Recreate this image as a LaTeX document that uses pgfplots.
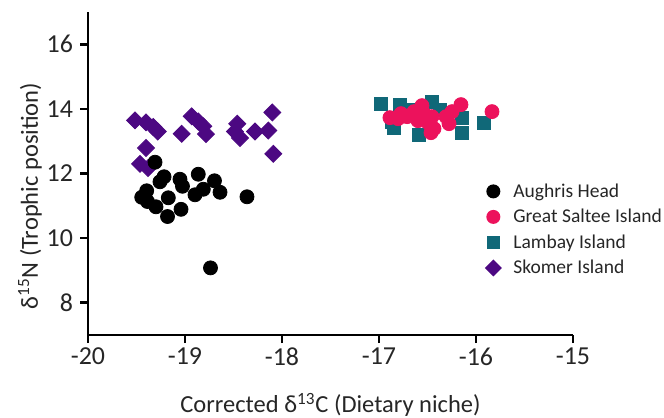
\documentclass[border=0pt]{standalone}
\usepackage{fontspec}
\setmainfont{Carlito}
\usepackage{pgfplots}
\pgfplotsset{compat=1.18}
\definecolor{cAug}{RGB}{0,0,0}
\definecolor{cSal}{RGB}{236,18,92}
\definecolor{cLam}{RGB}{16,104,120}
\definecolor{cSko}{RGB}{76,8,130}
\begin{document}
\begin{tikzpicture}
\useasboundingbox (-44bp,-41.5bp) rectangle (288bp,167.5bp);
\begin{axis}[
 scale only axis, width=242.5bp, height=161.5bp,
 xmin=-20,xmax=-15,ymin=7,ymax=17,
 axis x line=bottom, axis y line=left,
 axis line style={line width=1.3pt,-},
 xtick={-20,-19,-18,-17,-16,-15}, ytick={8,10,12,14,16},
 tick align=outside, major tick length=4bp,
 tick style={line width=1.3pt,black},
 /pgf/number format/assume math mode=true,
 ticklabel style={font=\fontsize{13}{15}\selectfont, text=black!85},
 xticklabel style={yshift=1bp},
 xlabel={Corrected δ\textsuperscript{13}C (Dietary niche)},
 ylabel={δ\textsuperscript{15}N (Trophic position)},
 label style={font=\fontsize{12.3}{14}\selectfont, text=black!85},
 xlabel style={at={(axis description cs:0.5,-0.2167)}, anchor=center},
 ylabel style={at={(axis description cs:-0.1196,0.43)}, anchor=center},
 legend cell align=left,
 legend image code/.code={\path[draw=none,fill=none] (0bp,0bp) -- (19.7bp,0bp);
   \path[#1,draw opacity=0] plot[only marks] coordinates {(10bp,0bp)};},
 legend style={draw=none, fill=none, at={(axis description cs:0.7814,0.497)}, anchor=north west,
   font=\fontsize{9.8}{12}\selectfont, row sep=0.2pt,
   nodes={inner sep=0.3pt, text height=9pt, text depth=3pt, text=black!85}},
]
\addlegendimage{only marks, mark=*, color=cAug, mark size=3.5bp}
\addlegendentry{Aughris Head}
\addlegendimage{only marks, mark=*, color=cSal, mark size=3.5bp}
\addlegendentry{Great Saltee Island}
\addlegendimage{only marks, mark=square*, color=cLam, mark size=3.2bp}
\addlegendentry{Lambay Island}
\addlegendimage{only marks, mark=square*, color=cSko, mark size=3bp, mark options={rotate=45}}
\addlegendentry{Skomer Island}
% Skomer
\addplot[forget plot, only marks, mark=square*, color=cSko, mark size=3bp, mark options={rotate=45}] coordinates {
(-19.515,13.645) (-19.402,13.583) (-19.327,13.44) (-19.281,13.30) (-19.034,13.23)
(-18.931,13.77) (-18.863,13.61) (-18.811,13.46) (-18.784,13.22) (-18.461,13.54)
(-18.485,13.30) (-18.433,13.10) (-18.278,13.30) (-18.141,13.33) (-18.100,13.89)
(-18.090,12.61) (-19.402,12.79) (-19.464,12.30) (-19.381,12.17)
};
% Aughris
\addplot[forget plot, only marks, mark=*, color=cAug, mark size=3.5bp] coordinates {
(-19.309,12.349) (-19.216,11.899) (-19.258,11.744) (-19.052,11.822) (-19.026,11.605)
(-18.863,11.977) (-18.696,11.775) (-18.811,11.512) (-18.897,11.341) (-18.639,11.419)
(-19.395,11.465) (-19.446,11.264) (-19.387,11.133) (-19.299,10.969) (-19.172,11.248)
(-19.180,10.668) (-19.041,10.891) (-18.361,11.279) (-18.737,9.078)
};
% Lambay
\addplot[forget plot, only marks, mark=square*, color=cLam, mark size=3.2bp] coordinates {
(-16.979,14.163) (-16.784,14.132) (-16.845,13.419) (-16.588,13.202) (-16.454,14.225)
(-16.371,13.977) (-16.144,13.729) (-16.144,13.264) (-15.918,13.574) (-16.660,13.977)
(-16.866,13.605)
};
% Great Saltee
\addplot[forget plot, only marks, mark=*, color=cSal, mark size=3.5bp] coordinates {
(-16.887,13.729) (-16.804,13.698) (-16.711,13.760) (-16.639,13.915) (-16.557,14.101)
(-16.536,13.853) (-16.598,13.636) (-16.454,13.760) (-16.495,13.574) (-16.464,13.264)
(-16.309,13.760) (-16.278,13.543) (-16.247,13.915) (-16.155,14.132) (-15.835,13.915)
(-16.433,13.388) (-16.773,13.853)
};
\end{axis}
\end{tikzpicture}
\end{document}
